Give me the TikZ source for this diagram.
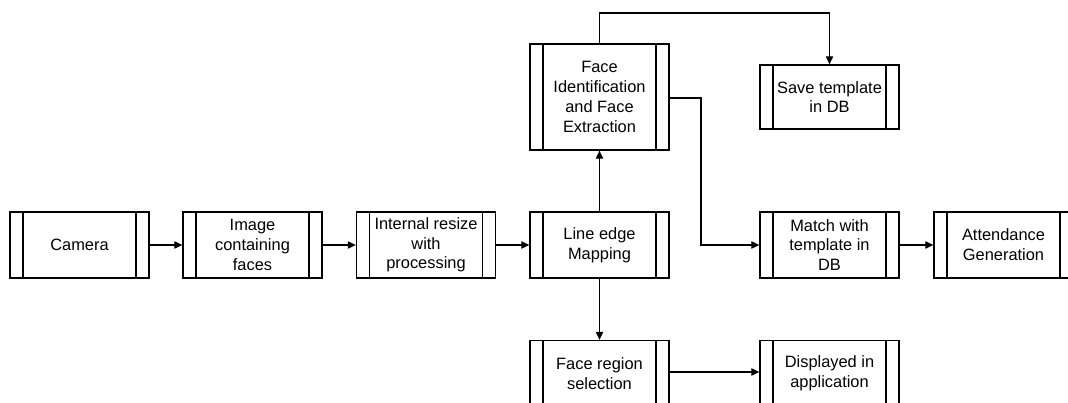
\documentclass[tikz,border=0pt]{standalone}
\usepackage{fontspec}
\setmainfont{Liberation Sans}
\usetikzlibrary{arrows.meta}
\tikzset{
  proc/.style={draw, line width=1pt, minimum width=104.25pt, minimum height=#1,
    inner sep=0pt, align=center, font=\fontsize{12.3}{14.8}\selectfont,
    path picture={
      \draw[line width=1pt] ([xshift=9.75pt]path picture bounding box.north west) -- ([xshift=9.75pt]path picture bounding box.south west);
      \draw[line width=1pt] ([xshift=-9.75pt]path picture bounding box.north east) -- ([xshift=-9.75pt]path picture bounding box.south east);
    }},
  proc/.default=49.5pt,
  conn/.style={line width=0.8pt, -{Triangle[length=6pt,width=5.5pt]}}
}
\begin{document}
\begin{tikzpicture}[x=0.75pt,y=-0.75pt]
\path[use as bounding box] (0,0) rectangle (1068,403);
\clip (0,0) rectangle (1068,403);
\node[proc] (cam) at (79.5,245) {Camera};
\node[proc] (img) at (252.5,245) {Image\\containing\\faces};
\node[proc] (res) at (426,245) {Internal resize\\with\\processing};
\node[proc] (lem) at (599.5,245) {Line edge\\Mapping};
\node[proc=79.5pt] (fid) at (599.5,97) {Face\\Identification\\and Face\\Extraction};
\node[proc=48pt] (sav) at (829.5,97) {Save template\\in DB};
\node[proc] (mat) at (829.5,245) {Match with\\template in\\DB};
\node[proc] (att) at (1003.5,245) {Attendance\\Generation};
\node[proc] (frs) at (599.5,373.5) {Face region\\selection};
\node[proc] (dis) at (829.5,373.5) {Displayed in\\application};
\coordinate (top) at (599.5,13);
\coordinate (bend) at (701,98);
\draw[conn] (cam) -- (img);
\draw[conn] (img) -- (res);
\draw[conn] (res) -- (lem);
\draw[conn] (lem) -- (fid);
\draw[conn] (lem) -- (frs);
\draw[conn] (mat) -- (att);
\draw[conn] (frs.east |- 0,372) -- (dis.west |- 0,372);
\draw[conn] (fid.north) -- (top) -| (sav.north);
\draw[conn] (fid.east |- bend) -- (bend) |- (mat.west);
\end{tikzpicture}
\end{document}
